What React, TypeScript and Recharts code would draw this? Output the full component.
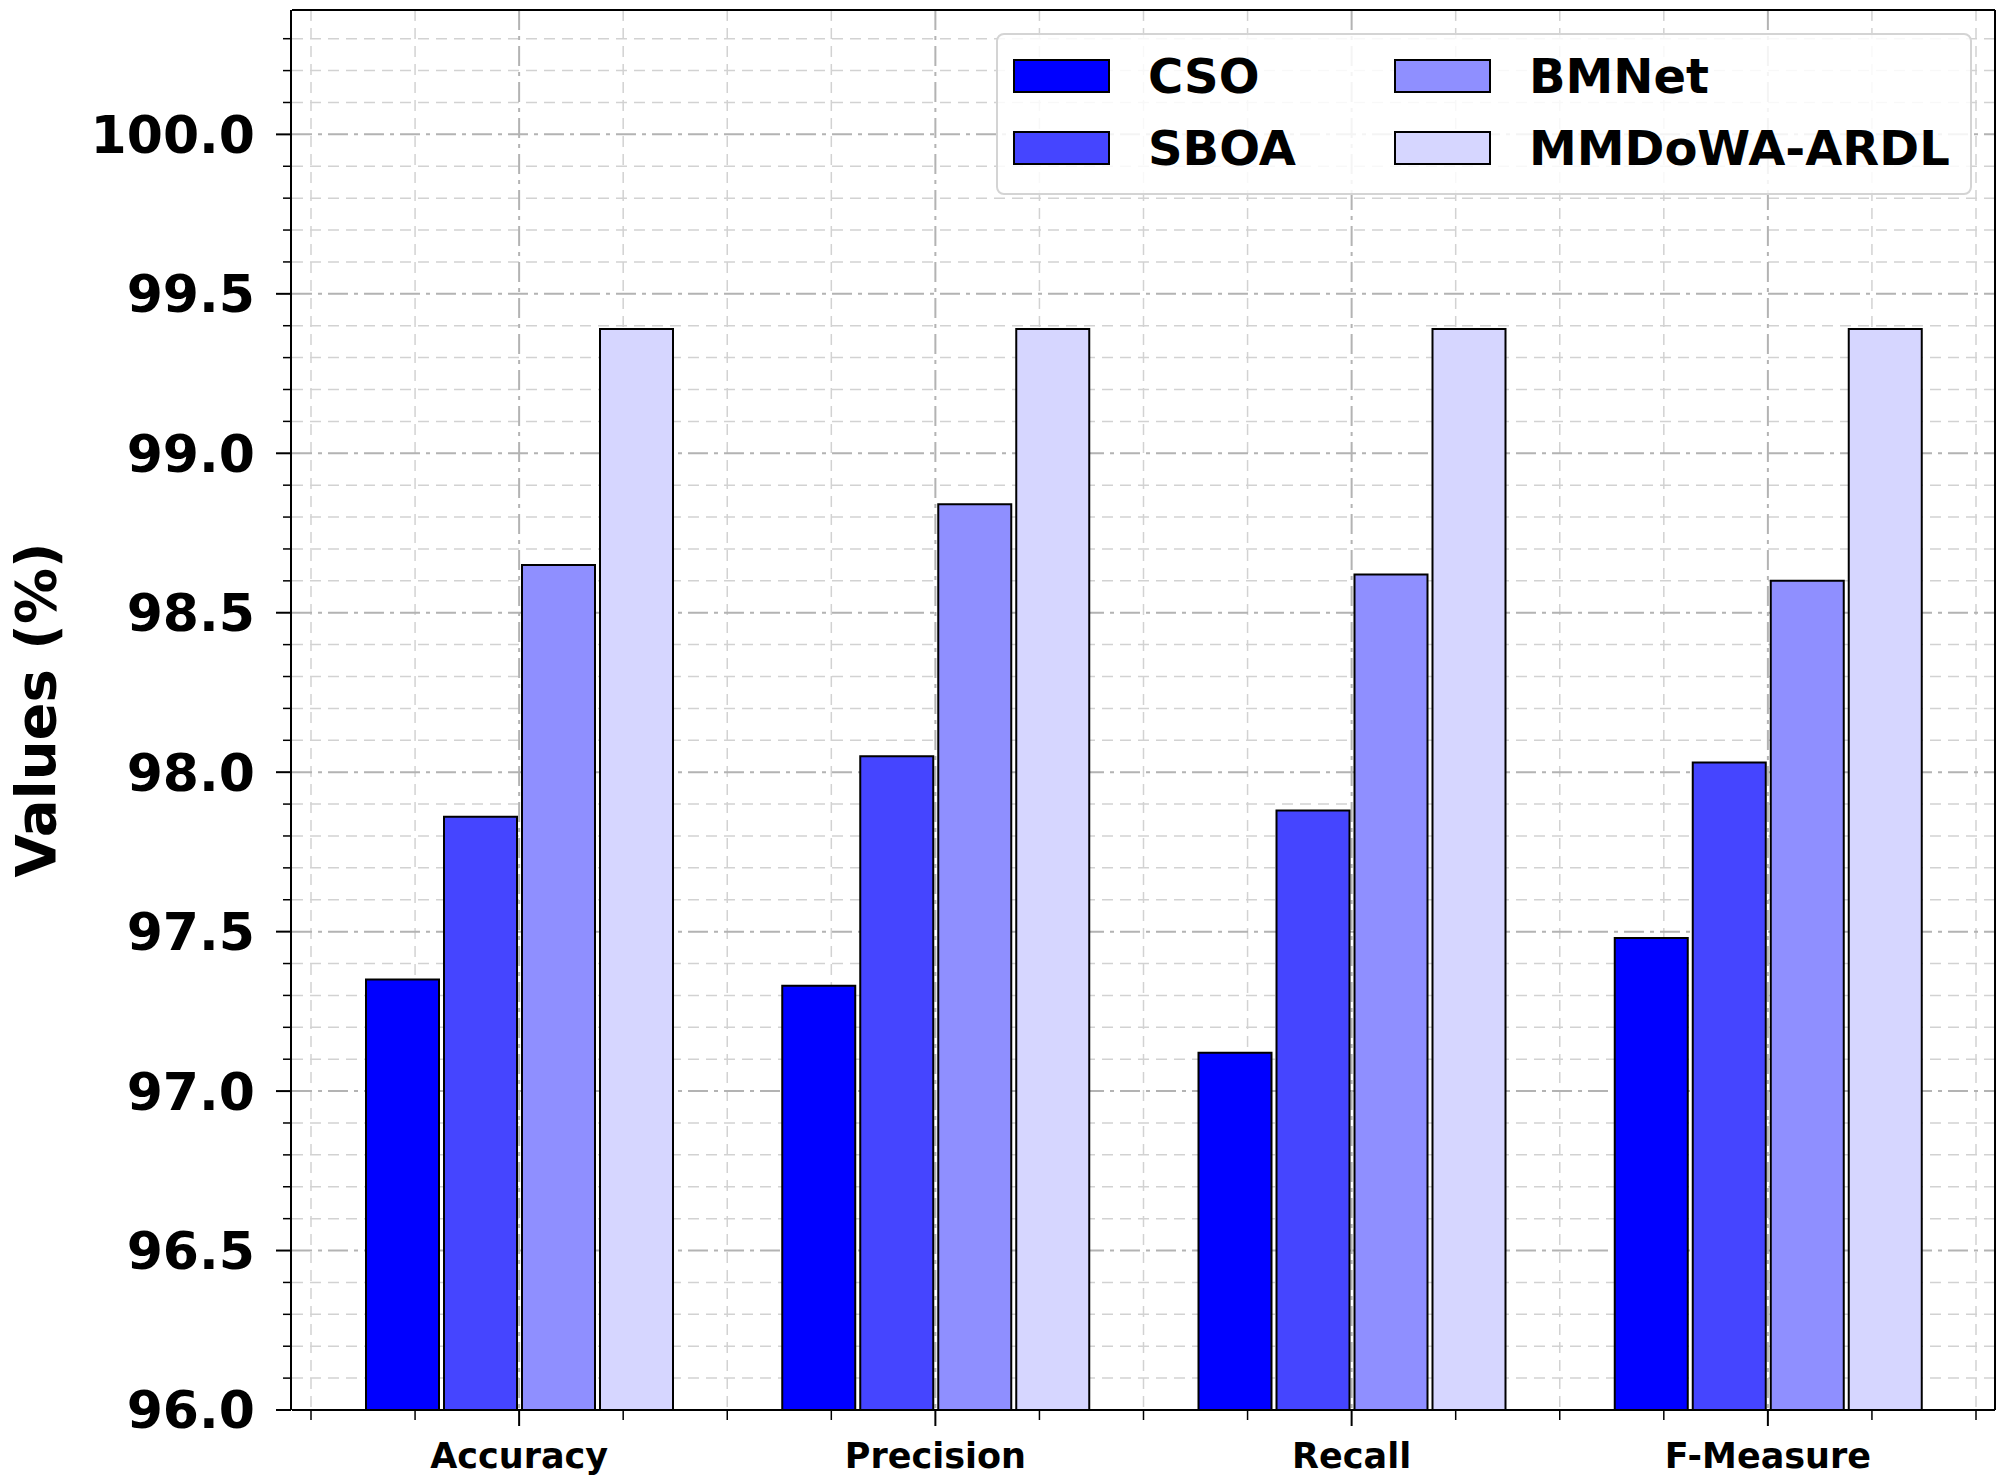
import { Bar, BarChart, CartesianGrid, Legend, XAxis, YAxis } from 'recharts';

// Values (percent).
const CATEGORIES = ['Accuracy', 'Precision', 'Recall', 'F-Measure'];
const CSO = [97.35, 97.33, 97.12, 97.48];
const SBOA = [97.86, 98.05, 97.88, 98.03];
const BMNET = [98.65, 98.84, 98.62, 98.6];
const MMDOWA = [99.39, 99.39, 99.39, 99.39];

const SERIES = [
  { key: 'cso', name: 'CSO', values: CSO, color: '#0000ff' },
  { key: 'sboa', name: 'SBOA', values: SBOA, color: '#4545ff' },
  { key: 'bmnet', name: 'BMNet', values: BMNET, color: '#8f8fff' },
  { key: 'mmdowa', name: 'MMDoWA-ARDL', values: MMDOWA, color: '#d6d6ff' },
];

const Y_DOMAIN: [number, number] = [96, 100.39];
const Y_MAJOR_TICKS = [96, 96.5, 97, 97.5, 98, 98.5, 99, 99.5, 100];
const Y_MINOR_TICKS = [
  96.1, 96.2, 96.3, 96.4, 96.6, 96.7, 96.8, 96.9,
  97.1, 97.2, 97.3, 97.4, 97.6, 97.7, 97.8, 97.9,
  98.1, 98.2, 98.3, 98.4, 98.6, 98.7, 98.8, 98.9,
  99.1, 99.2, 99.3, 99.4, 99.6, 99.7, 99.8, 99.9,
  100.1, 100.2, 100.3,
];
// category index positions: majors on the categories, minors at quarter steps
const X_MAJOR_TICKS = [0, 1, 2, 3];
const X_MINOR_TICKS = [-0.5, -0.25, 0.25, 0.5, 0.75, 1.25, 1.5, 1.75, 2.25, 2.5, 2.75, 3.25, 3.5];

const FONT = '"DejaVu Sans", sans-serif';
const AXIS_PAD = { left: 19, right: 19 };
const SPINE = { stroke: '#000', strokeWidth: 2 };

const data = CATEGORIES.map((category, idx) => {
  const row: Record<string, string | number> = { category, idx };
  SERIES.forEach((s) => {
    row[s.key] = s.values[idx];
  });
  return row;
});

// matplotlib-style legend: two columns, filled column by column
function LegendBox() {
  return (
    <div
      style={{
        position: 'relative',
        width: '100%',
        height: '100%',
        boxSizing: 'border-box',
        border: '2px solid #d4d4d4',
        borderRadius: 8,
        background: 'rgba(255,255,255,0.85)',
        fontFamily: FONT,
      }}
    >
      {SERIES.map((s, i) => {
        const col = Math.floor(i / 2);
        const row = i % 2;
        const left = 15 + col * 381;
        const top = 24 + row * 72;
        return (
          <div key={s.key} style={{ position: 'absolute', left, top, height: 34, display: 'flex', alignItems: 'center' }}>
            <div
              style={{
                width: 97,
                height: 34,
                boxSizing: 'border-box',
                border: '2px solid #000',
                background: s.color,
              }}
            />
            <span style={{ marginLeft: 38, fontSize: 48, fontWeight: 'bold', color: '#000', lineHeight: 1, whiteSpace: 'nowrap' }}>
              {s.name}
            </span>
          </div>
        );
      })}
    </div>
  );
}

function YLabel({ viewBox }: { viewBox?: { x: number; y: number; width: number; height: number } }) {
  if (!viewBox) return null;
  const cx = viewBox.x + 35;
  const cy = viewBox.y + viewBox.height / 2;
  return (
    <text
      x={cx}
      y={cy}
      transform={`rotate(-90 ${cx} ${cy})`}
      textAnchor="middle"
      dominantBaseline="central"
      fontSize={56}
      fontWeight="bold"
      fontFamily={FONT}
      fill="#000"
    >
      Values (%)
    </text>
  );
}

export default function App() {
  return (
    <div style={{ position: 'absolute', left: 0, top: 0, width: 2008, height: 1481, background: '#fff', fontFamily: FONT }}>
      <BarChart
        width={2008}
        height={1481}
        data={data}
        margin={{ top: 9, right: 12, left: 0, bottom: 0 }}
        barGap={5}
      >
        {/* minor grid (dashed) */}
        <CartesianGrid
          xAxisId={0}
          yAxisId={0}
          horizontalValues={Y_MINOR_TICKS}
          verticalValues={X_MINOR_TICKS}
          stroke="#d2d2d2"
          strokeWidth={1.5}
          strokeDasharray="11 7"
        />
        {/* major grid (dash-dot) */}
        <CartesianGrid
          xAxisId={0}
          yAxisId={0}
          horizontalValues={Y_MAJOR_TICKS}
          verticalValues={X_MAJOR_TICKS}
          stroke="#b3b3b3"
          strokeWidth={2}
          strokeDasharray="20 6 4 6"
        />

        {/* minor tick axes, declared first so they sit on the plot edge */}
        <XAxis
          xAxisId={0}
          type="number"
          dataKey="idx"
          domain={[-0.5, 3.5]}
          padding={AXIS_PAD}
          allowDataOverflow
          ticks={X_MINOR_TICKS}
          interval={0}
          height={1}
          tickSize={10}
          tickMargin={0}
          tickFormatter={() => ''}
          axisLine={SPINE}
          tickLine={{ stroke: '#000', strokeWidth: 1.5 }}
        />
        <YAxis
          yAxisId={0}
          type="number"
          domain={Y_DOMAIN}
          allowDataOverflow
          ticks={Y_MINOR_TICKS}
          interval={0}
          width={1}
          tickSize={9}
          tickMargin={0}
          tickFormatter={() => ''}
          axisLine={false}
          tickLine={{ stroke: '#000', strokeWidth: 1.5 }}
        />

        <XAxis
          xAxisId="cat"
          dataKey="category"
          padding={AXIS_PAD}
          interval={0}
          height={70}
          tickSize={15}
          tickMargin={17}
          axisLine={false}
          tickLine={{ stroke: '#000', strokeWidth: 2 }}
          tick={{ fontSize: 35, fontWeight: 'bold', fill: '#000', fontFamily: FONT }}
        />
        <YAxis
          yAxisId="main"
          type="number"
          domain={Y_DOMAIN}
          allowDataOverflow
          ticks={Y_MAJOR_TICKS}
          interval={0}
          width={291}
          tickSize={15}
          tickMargin={21}
          tickFormatter={(v: number) => v.toFixed(1)}
          axisLine={SPINE}
          tickLine={{ stroke: '#000', strokeWidth: 2 }}
          tick={{ fontSize: 52, fontWeight: 'bold', fill: '#000', fontFamily: FONT }}
          label={{ content: (props: any) => <YLabel viewBox={props.viewBox} /> }}
        />

        {/* frame: top and right spines */}
        <XAxis
          xAxisId="top"
          orientation="top"
          dataKey="category"
          height={1}
          tick={false}
          tickLine={false}
          axisLine={SPINE}
        />
        <YAxis
          yAxisId="right"
          orientation="right"
          type="number"
          domain={Y_DOMAIN}
          width={1}
          tick={false}
          tickLine={false}
          axisLine={SPINE}
        />

        <Legend
          layout="horizontal"
          verticalAlign="middle"
          align="center"
          content={() => <LegendBox />}
          wrapperStyle={{ position: 'absolute', left: 996, top: 33, width: 976, height: 162 }}
        />

        {SERIES.map((s) => (
          <Bar
            key={s.key}
            xAxisId="cat"
            yAxisId="main"
            dataKey={s.key}
            name={s.name}
            fill={s.color}
            stroke="#000"
            strokeWidth={2}
            barSize={73}
            isAnimationActive={false}
          />
        ))}
      </BarChart>
    </div>
  );
}
